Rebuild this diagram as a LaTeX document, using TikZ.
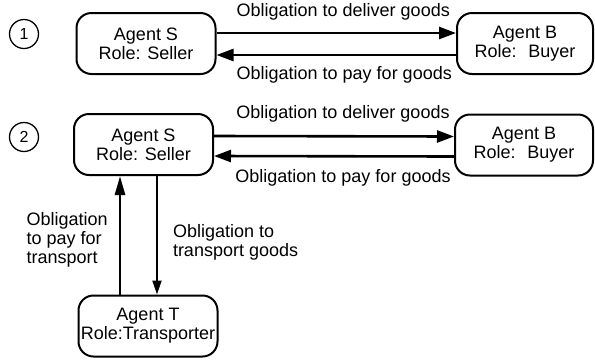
\documentclass[tikz,border=0pt]{standalone}
\usepackage{fontspec}
\setmainfont{Liberation Sans}
\usepackage{tikz}
\usetikzlibrary{shapes.geometric,arrows.meta}
\tikzstyle{agent} = [rectangle, rounded corners=15pt, minimum width=139pt, minimum height=61pt, inner sep=0pt, draw=black, line width=2pt, align=center, font=\fontsize{18}{19}\selectfont]
\tikzstyle{num} = [circle, draw=black, line width=1.3pt, minimum size=29pt, inner sep=0pt, font=\fontsize{16}{16}\selectfont]
\tikzstyle{arrow} = [line width=2.6pt, -{Triangle[length=17pt,width=12pt]}]
\tikzstyle{thinarrow} = [line width=2pt, -{Triangle[length=14pt,width=9pt]}]
\tikzstyle{oblig} = [font=\fontsize{18}{19}\selectfont, inner sep=3pt, align=left]

\begin{document}
\begin{tikzpicture}[x=1pt,y=-1pt]
\useasboundingbox (0,0) rectangle (595,360);
% seller and buyer
\node (one) [num] at (24,34) {1};
\node (seller) [agent] at (146,43.5) {Agent S\\Role: Seller};
\node (buyer) [agent, minimum width=136pt] at (525,43.5) {Agent B\\Role:~ Buyer};
\draw[arrow] ([yshift=10.5pt]seller.east) -- ([yshift=10.5pt]buyer.west)
node [oblig, midway, above=8pt, xshift=7pt] {Obligation to deliver goods};
\draw[arrow] ([yshift=-11.5pt]buyer.west) -- ([yshift=-11.5pt]seller.east)
node [oblig, midway, below=7pt, xshift=8pt] {Obligation to pay for goods};
% seller, buyer and transporter
\node (two) [num] at (24,137) {2};
\node (seller2) [agent] at (143.5,144.5) {Agent S\\Role: Seller};
\node (buyer2) [agent, minimum width=138pt] at (524,145) {Agent B\\Role:~ Buyer};
\node (transp) [agent] at (148,326) {Agent T\\Role:Transporter};
\draw[arrow] ([yshift=8.5pt]seller2.east) -- ([yshift=8.5pt]buyer2.west)
node [oblig, midway, above=10pt, xshift=9pt] {Obligation to deliver goods};
\draw[arrow] ([yshift=-11.5pt]buyer2.west) -- ([yshift=-11.5pt]seller2.east)
node [oblig, midway, below=9pt, xshift=9pt] {Obligation to pay for goods};
\draw[arrow, -{Triangle[length=19pt,width=10pt]}] (transp.north -| 120,0) -- (seller2.south -| 120,0)
node [oblig, pos=0.46, left=8pt] {Obligation\\to pay for\\transport};
\draw[thinarrow] (seller2.south -| 157,0) -- (transp.north -| 157,0)
node [oblig, pos=0.56, right=12pt] {Obligation to\\transport goods};
\end{tikzpicture}
\end{document}
